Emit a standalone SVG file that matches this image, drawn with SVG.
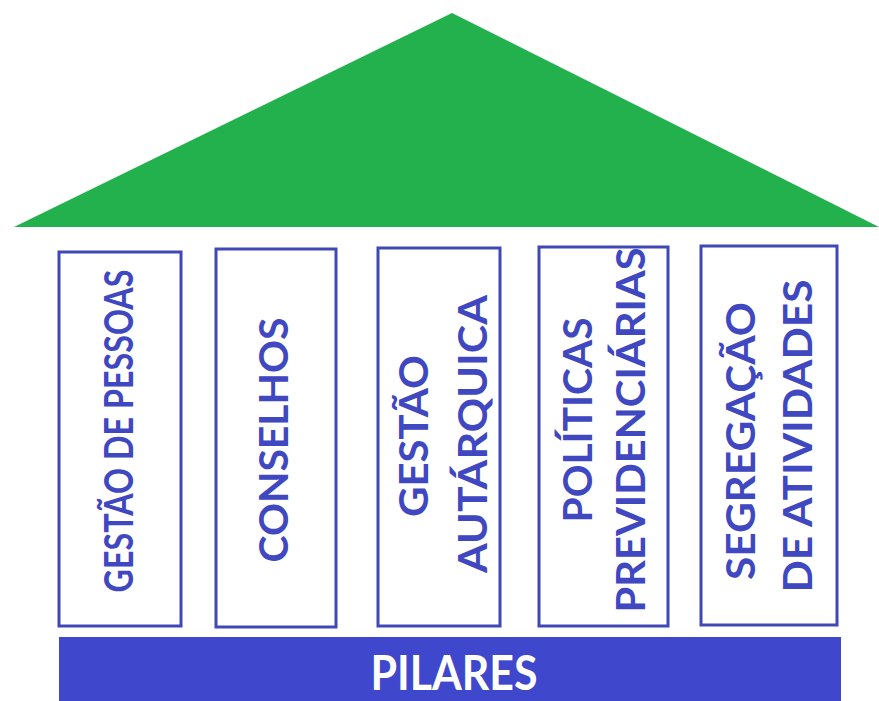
<svg xmlns="http://www.w3.org/2000/svg" width="879" height="701" viewBox="0 0 879 701">
<style>
.col{fill:#ffffff;stroke:#3f48b4;stroke-width:3}
.lbl{font-family:Lato,"Open Sans","Liberation Sans",sans-serif;font-weight:bold;font-size:41px;fill:#3f48c0;text-anchor:middle}
.base{font-family:Lato,"Open Sans","Liberation Sans",sans-serif;font-weight:bold;font-size:47px;fill:#ffffff;text-anchor:middle}
</style>
<rect width="879" height="701" fill="#ffffff"/>
<g id="roof"><polygon points="452,13 14,227 879,227" fill="#22b14c"/></g>
<g id="col1"><rect class="col" x="59" y="252" width="122" height="374"/>
<text class="lbl" transform="translate(133,431) rotate(-90)" textLength="323" lengthAdjust="spacingAndGlyphs">GESTÃO DE PESSOAS</text></g>
<g id="col2"><rect class="col" x="216" y="249" width="120" height="378"/>
<text class="lbl" transform="translate(288,440) rotate(-90)" textLength="245" lengthAdjust="spacingAndGlyphs">CONSELHOS</text></g>
<g id="col3"><rect class="col" x="378" y="248" width="122" height="378"/>
<text class="lbl" transform="translate(428,436) rotate(-90)" textLength="162" lengthAdjust="spacingAndGlyphs">GESTÃO</text>
<text class="lbl" transform="translate(487,434) rotate(-90)" textLength="278" lengthAdjust="spacingAndGlyphs">AUTÁRQUICA</text></g>
<g id="col4"><rect class="col" x="539" y="247" width="129" height="379"/>
<text class="lbl" transform="translate(592,420) rotate(-90)" textLength="205" lengthAdjust="spacingAndGlyphs">POLÍTICAS</text>
<text class="lbl" transform="translate(645,430) rotate(-90)" textLength="365" lengthAdjust="spacingAndGlyphs">PREVIDENCIÁRIAS</text></g>
<g id="col5"><rect class="col" x="701" y="246" width="136" height="379"/>
<text class="lbl" transform="translate(755,441) rotate(-90)" textLength="278" lengthAdjust="spacingAndGlyphs">SEGREGAÇÃO</text>
<text class="lbl" transform="translate(812,436) rotate(-90)" textLength="313" lengthAdjust="spacingAndGlyphs">DE ATIVIDADES</text></g>
<g id="base"><rect x="59" y="637" width="782" height="64" fill="#3f48cc"/>
<text class="base" x="454" y="690" textLength="167" lengthAdjust="spacingAndGlyphs">PILARES</text></g>
<g id="connectors"></g>
</svg>
